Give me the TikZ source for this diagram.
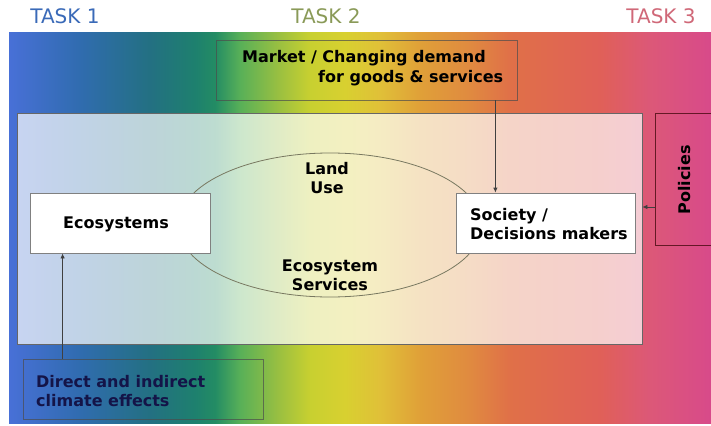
\documentclass[tikz,border=0pt]{standalone}
\usepackage{fontspec}
\setmainfont{DejaVu Sans}
\usetikzlibrary{shapes.geometric,arrows.meta}

\definecolor{sp0}{RGB}{72,112,215}
\definecolor{sp1}{RGB}{48,108,175}
\definecolor{sp2}{RGB}{35,112,130}
\definecolor{sp3}{RGB}{30,128,110}
\definecolor{sp4}{RGB}{35,140,100}
\definecolor{sp5}{RGB}{88,176,88}
\definecolor{sp6}{RGB}{156,192,64}
\definecolor{sp7}{RGB}{200,208,48}
\definecolor{sp8}{RGB}{216,208,48}
\definecolor{sp9}{RGB}{224,192,56}
\definecolor{sp10}{RGB}{224,160,56}
\definecolor{sp11}{RGB}{224,138,64}
\definecolor{sp12}{RGB}{224,112,72}
\definecolor{sp13}{RGB}{224,96,88}
\definecolor{sp14}{RGB}{220,88,120}
\definecolor{sp15}{RGB}{216,74,138}
\definecolor{taskone}{RGB}{58,106,184}
\definecolor{tasktwo}{RGB}{138,154,88}
\definecolor{taskthree}{RGB}{208,104,120}
\definecolor{linegray}{RGB}{64,64,64}
\definecolor{climtext}{RGB}{20,20,72}
\definecolor{ringgray}{RGB}{120,120,96}

% spectrum behind the whole diagram
\pgfdeclarehorizontalshading{spectrum}{100bp}{color(0bp)=(sp0); color(25bp)=(sp0);
  color(30.06bp)=(sp1); color(35.04bp)=(sp2); color(38.25bp)=(sp3); color(39.67bp)=(sp4);
  color(41.45bp)=(sp5); color(44.30bp)=(sp6); color(46.44bp)=(sp7); color(48.93bp)=(sp8);
  color(51.42bp)=(sp9); color(54.27bp)=(sp10); color(57.83bp)=(sp11); color(60.68bp)=(sp12);
  color(67.09bp)=(sp13); color(70.65bp)=(sp14); color(75bp)=(sp15); color(100bp)=(sp15)}

\tikzset{
  lbl/.style={font=\fontsize{16}{19}\selectfont\bfseries, inner sep=0pt},
  tasklbl/.style={font=\fontsize{20}{22}\selectfont, inner sep=0pt},
  whitebox/.style={draw=gray, line width=0.8pt, fill=white, minimum height=60pt},
  outbox/.style={draw=black!70, draw opacity=0.7, line width=0.8pt},
  arr/.style={draw=linegray, line width=0.8pt, -{Latex[length=5pt,width=4.5pt]}}
}

\begin{document}
\begin{tikzpicture}[x=1pt,y=-1pt]
  \clip (0,0) rectangle (711,425);
  \fill[white] (0,0) rectangle (711,425);
  \shade[shading=spectrum] (9,33) rectangle (711,423);

  % task headings
  \node[tasklbl, text=taskone] (taskA) at (65,16) {TASK 1};
  \node[tasklbl, text=tasktwo] (taskB) at (326,16) {TASK 2};
  \node[tasklbl, text=taskthree] (taskC) at (661,16) {TASK 3};

  % light panel
  \node[draw=black!60, line width=0.8pt, fill=white, fill opacity=0.7,
        minimum width=625pt, minimum height=231pt] (inner) at (329.5,228.5) {};

  \node[draw=ringgray, line width=0.8pt, ellipse,
        minimum width=304pt, minimum height=144pt] (landuse) at (330,225) {};
  \node[lbl, align=center] (landtxt) at (327,178) {Land\\Use};
  \node[lbl, align=center] (servtxt) at (330,275) {Ecosystem\\Services};

  \node[whitebox, minimum width=180pt] (ecosys) at (120,223) {};
  \node[lbl] (ecotxt) at (116,224) {Ecosystems};
  \node[whitebox, minimum width=179pt] (society) at (545.5,223) {};
  \node[lbl, anchor=west, align=left] (soctxt) at (470,224) {Society /\\Decisions makers};

  % outer drivers
  \node[outbox, minimum width=301pt, minimum height=60pt] (market) at (366.5,70) {};
  \node[lbl, anchor=west, align=left, font=\fontsize{16}{20}\selectfont\bfseries]
        (mkttxt) at (242,68) {Market / Changing demand\\\hspace*{76pt}for goods \& services};
  \node[outbox, minimum width=240pt, minimum height=60pt] (climate) at (143,389) {};
  \node[lbl, anchor=west, align=left, text=climtext] (cliptxt) at (36,391)
        {Direct and indirect\\climate effects};
  \node[outbox, draw=black!80!red, minimum width=80pt, minimum height=132pt] (policies) at (695,179) {};
  \node[lbl, rotate=90] (poltxt) at (685,180) {Policies};

  % links
  \coordinate (mk) at ([xshift=-22pt]market.south east);
  \draw[arr] (mk) -- (mk |- society.north);
  \coordinate (pol) at ([yshift=16pt]society.east);
  \draw[arr] (policies.west |- pol) -- (inner.east |- pol);
  \coordinate (cl) at ([xshift=33pt]ecosys.south west);
  \draw[arr] (climate.north -| cl) -- (cl);
\end{tikzpicture}
\end{document}
